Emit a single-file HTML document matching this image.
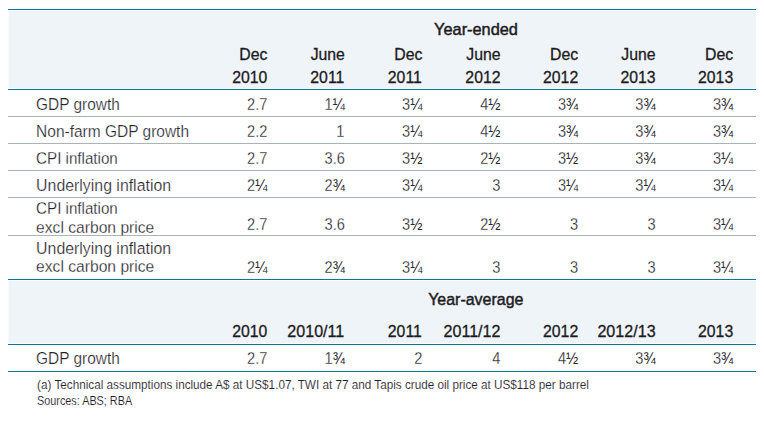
<!DOCTYPE html>
<html><head><meta charset="utf-8"><title>Table</title>
<style>
html,body{margin:0;padding:0;background:#fff;}
svg{display:block;}
text{font-family:"Liberation Sans",sans-serif;white-space:pre;}
.b{font-size:17px;fill:#25232a;stroke:#fff;stroke-width:0.25px;}
.h{font-size:17px;fill:#1d1a22;stroke:#1d1a22;stroke-width:0.3px;}
.hb{font-size:17px;fill:#1d1a22;stroke:#1d1a22;stroke-width:0.45px;}
.fr{stroke:none;}
.f{font-size:12.6px;fill:#222027;stroke:#fff;stroke-width:0.12px;}
</style></head><body>
<svg width="764" height="421" viewBox="0 0 764 421">
<rect width="764" height="421" fill="#fff"/>
<rect x="8.6" y="10.8" width="747.4" height="77.2" fill="#eef4f7"/>
<rect x="8.6" y="280.8" width="747.4" height="62.19999999999999" fill="#eef4f7"/>
<rect x="8" y="9" width="748" height="1" fill="#08789a"/>
<rect x="8" y="89" width="748" height="1" fill="#08789a"/>
<rect x="8" y="279" width="748" height="1" fill="#08789a"/>
<rect x="8" y="344" width="748" height="1" fill="#08789a"/>
<rect x="8" y="371" width="748" height="1" fill="#08789a"/>
<rect x="8" y="116" width="748" height="1" fill="#a9b4ba"/>
<rect x="8" y="143" width="748" height="1" fill="#a9b4ba"/>
<rect x="8" y="170" width="748" height="1" fill="#a9b4ba"/>
<rect x="8" y="197" width="748" height="1" fill="#a9b4ba"/>
<rect x="8" y="235" width="748" height="1" fill="#a9b4ba"/>
<text class="hb" transform="translate(476 34.6) scale(0.96 1)" text-anchor="middle">Year-ended</text>
<text class="h" transform="translate(267.4 59.6) scale(0.93 1)" text-anchor="end">Dec</text>
<text class="h" transform="translate(267.4 82.9) scale(0.93 1)" text-anchor="end">2010</text>
<text class="h" transform="translate(344.9 59.6) scale(0.93 1)" text-anchor="end">June</text>
<text class="h" transform="translate(344.3 82.9) scale(0.93 1)" text-anchor="end">2011</text>
<text class="h" transform="translate(422.4 59.6) scale(0.93 1)" text-anchor="end">Dec</text>
<text class="h" transform="translate(421.8 82.9) scale(0.93 1)" text-anchor="end">2011</text>
<text class="h" transform="translate(500.5 59.6) scale(0.93 1)" text-anchor="end">June</text>
<text class="h" transform="translate(500.5 82.9) scale(0.93 1)" text-anchor="end">2012</text>
<text class="h" transform="translate(578.2 59.6) scale(0.93 1)" text-anchor="end">Dec</text>
<text class="h" transform="translate(578.2 82.9) scale(0.93 1)" text-anchor="end">2012</text>
<text class="h" transform="translate(655.6 59.6) scale(0.93 1)" text-anchor="end">June</text>
<text class="h" transform="translate(655.6 82.9) scale(0.93 1)" text-anchor="end">2013</text>
<text class="h" transform="translate(733.2 59.6) scale(0.93 1)" text-anchor="end">Dec</text>
<text class="h" transform="translate(733.2 82.9) scale(0.93 1)" text-anchor="end">2013</text>
<text class="b" transform="translate(36.1 109.7) scale(0.908 1)">GDP growth</text>
<text class="b" transform="translate(267.4 109.7) scale(0.86 1)" text-anchor="end">2.7</text>
<text class="b" transform="translate(344.9 109.7) scale(0.86 1)" text-anchor="end">1<tspan class="fr">¼</tspan></text>
<text class="b" transform="translate(422.4 109.7) scale(0.86 1)" text-anchor="end">3<tspan class="fr">¼</tspan></text>
<text class="b" transform="translate(500.5 109.7) scale(0.86 1)" text-anchor="end">4<tspan class="fr">½</tspan></text>
<text class="b" transform="translate(578.2 109.7) scale(0.86 1)" text-anchor="end">3<tspan class="fr">¾</tspan></text>
<text class="b" transform="translate(655.6 109.7) scale(0.86 1)" text-anchor="end">3<tspan class="fr">¾</tspan></text>
<text class="b" transform="translate(733.2 109.7) scale(0.86 1)" text-anchor="end">3<tspan class="fr">¾</tspan></text>
<text class="b" transform="translate(36.1 136.7) scale(0.912 1)">Non-farm GDP growth</text>
<text class="b" transform="translate(267.4 136.7) scale(0.86 1)" text-anchor="end">2.2</text>
<text class="b" transform="translate(344.3 136.7) scale(0.86 1)" text-anchor="end">1</text>
<text class="b" transform="translate(422.4 136.7) scale(0.86 1)" text-anchor="end">3<tspan class="fr">¼</tspan></text>
<text class="b" transform="translate(500.5 136.7) scale(0.86 1)" text-anchor="end">4<tspan class="fr">½</tspan></text>
<text class="b" transform="translate(578.2 136.7) scale(0.86 1)" text-anchor="end">3<tspan class="fr">¾</tspan></text>
<text class="b" transform="translate(655.6 136.7) scale(0.86 1)" text-anchor="end">3<tspan class="fr">¾</tspan></text>
<text class="b" transform="translate(733.2 136.7) scale(0.86 1)" text-anchor="end">3<tspan class="fr">¾</tspan></text>
<text class="b" transform="translate(36.1 163.7) scale(0.892 1)">CPI inflation</text>
<text class="b" transform="translate(267.4 163.7) scale(0.86 1)" text-anchor="end">2.7</text>
<text class="b" transform="translate(344.9 163.7) scale(0.86 1)" text-anchor="end">3.6</text>
<text class="b" transform="translate(422.4 163.7) scale(0.86 1)" text-anchor="end">3<tspan class="fr">½</tspan></text>
<text class="b" transform="translate(500.5 163.7) scale(0.86 1)" text-anchor="end">2<tspan class="fr">½</tspan></text>
<text class="b" transform="translate(578.2 163.7) scale(0.86 1)" text-anchor="end">3<tspan class="fr">½</tspan></text>
<text class="b" transform="translate(655.6 163.7) scale(0.86 1)" text-anchor="end">3<tspan class="fr">¾</tspan></text>
<text class="b" transform="translate(733.2 163.7) scale(0.86 1)" text-anchor="end">3<tspan class="fr">¼</tspan></text>
<text class="b" transform="translate(36.1 190.7) scale(0.934 1)">Underlying inflation</text>
<text class="b" transform="translate(267.4 190.7) scale(0.86 1)" text-anchor="end">2<tspan class="fr">¼</tspan></text>
<text class="b" transform="translate(344.9 190.7) scale(0.86 1)" text-anchor="end">2<tspan class="fr">¾</tspan></text>
<text class="b" transform="translate(422.4 190.7) scale(0.86 1)" text-anchor="end">3<tspan class="fr">¼</tspan></text>
<text class="b" transform="translate(500.5 190.7) scale(0.86 1)" text-anchor="end">3</text>
<text class="b" transform="translate(578.2 190.7) scale(0.86 1)" text-anchor="end">3<tspan class="fr">¼</tspan></text>
<text class="b" transform="translate(655.6 190.7) scale(0.86 1)" text-anchor="end">3<tspan class="fr">¼</tspan></text>
<text class="b" transform="translate(733.2 190.7) scale(0.86 1)" text-anchor="end">3<tspan class="fr">¼</tspan></text>
<text class="b" transform="translate(36.1 213.8) scale(0.892 1)">CPI inflation</text>
<text class="b" transform="translate(36.1 232.7) scale(0.92 1)">excl carbon price</text>
<text class="b" transform="translate(267.4 229.7) scale(0.86 1)" text-anchor="end">2.7</text>
<text class="b" transform="translate(344.9 229.7) scale(0.86 1)" text-anchor="end">3.6</text>
<text class="b" transform="translate(422.4 229.7) scale(0.86 1)" text-anchor="end">3<tspan class="fr">½</tspan></text>
<text class="b" transform="translate(500.5 229.7) scale(0.86 1)" text-anchor="end">2<tspan class="fr">½</tspan></text>
<text class="b" transform="translate(578.2 229.7) scale(0.86 1)" text-anchor="end">3</text>
<text class="b" transform="translate(655.6 229.7) scale(0.86 1)" text-anchor="end">3</text>
<text class="b" transform="translate(733.2 229.7) scale(0.86 1)" text-anchor="end">3<tspan class="fr">¼</tspan></text>
<text class="b" transform="translate(36.1 253.6) scale(0.934 1)">Underlying inflation</text>
<text class="b" transform="translate(36.1 272.4) scale(0.92 1)">excl carbon price</text>
<text class="b" transform="translate(267.4 272.8) scale(0.86 1)" text-anchor="end">2<tspan class="fr">¼</tspan></text>
<text class="b" transform="translate(344.9 272.8) scale(0.86 1)" text-anchor="end">2<tspan class="fr">¾</tspan></text>
<text class="b" transform="translate(422.4 272.8) scale(0.86 1)" text-anchor="end">3<tspan class="fr">¼</tspan></text>
<text class="b" transform="translate(500.5 272.8) scale(0.86 1)" text-anchor="end">3</text>
<text class="b" transform="translate(578.2 272.8) scale(0.86 1)" text-anchor="end">3</text>
<text class="b" transform="translate(655.6 272.8) scale(0.86 1)" text-anchor="end">3</text>
<text class="b" transform="translate(733.2 272.8) scale(0.86 1)" text-anchor="end">3<tspan class="fr">¼</tspan></text>
<text class="b" transform="translate(36.1 363.7) scale(0.908 1)">GDP growth</text>
<text class="b" transform="translate(267.4 363.7) scale(0.86 1)" text-anchor="end">2.7</text>
<text class="b" transform="translate(344.9 363.7) scale(0.86 1)" text-anchor="end">1<tspan class="fr">¾</tspan></text>
<text class="b" transform="translate(422.4 363.7) scale(0.86 1)" text-anchor="end">2</text>
<text class="b" transform="translate(500.5 363.7) scale(0.86 1)" text-anchor="end">4</text>
<text class="b" transform="translate(578.2 363.7) scale(0.86 1)" text-anchor="end">4<tspan class="fr">½</tspan></text>
<text class="b" transform="translate(655.6 363.7) scale(0.86 1)" text-anchor="end">3<tspan class="fr">¾</tspan></text>
<text class="b" transform="translate(733.2 363.7) scale(0.86 1)" text-anchor="end">3<tspan class="fr">¾</tspan></text>
<text class="hb" transform="translate(475.8 304.7) scale(0.94 1)" text-anchor="middle">Year-average</text>
<text class="h" transform="translate(267.4 336.7) scale(0.93 1)" text-anchor="end">2010</text>
<text class="h" transform="translate(344.3 336.7) scale(0.947 1)" text-anchor="end">2010/11</text>
<text class="h" transform="translate(421.8 336.7) scale(0.93 1)" text-anchor="end">2011</text>
<text class="h" transform="translate(500.5 336.7) scale(0.947 1)" text-anchor="end">2011/12</text>
<text class="h" transform="translate(578.2 336.7) scale(0.93 1)" text-anchor="end">2012</text>
<text class="h" transform="translate(655.6 336.7) scale(0.947 1)" text-anchor="end">2012/13</text>
<text class="h" transform="translate(733.2 336.7) scale(0.93 1)" text-anchor="end">2013</text>
<text class="f" transform="translate(37.1 389) scale(0.9305 1)">(a) Technical assumptions include A$ at US$1.07, TWI at 77 and Tapis crude oil price at US$118 per barrel</text>
<text class="f" transform="translate(37.0 404.5) scale(0.86 1)">Sources: ABS; RBA</text>
</svg>
</body></html>
